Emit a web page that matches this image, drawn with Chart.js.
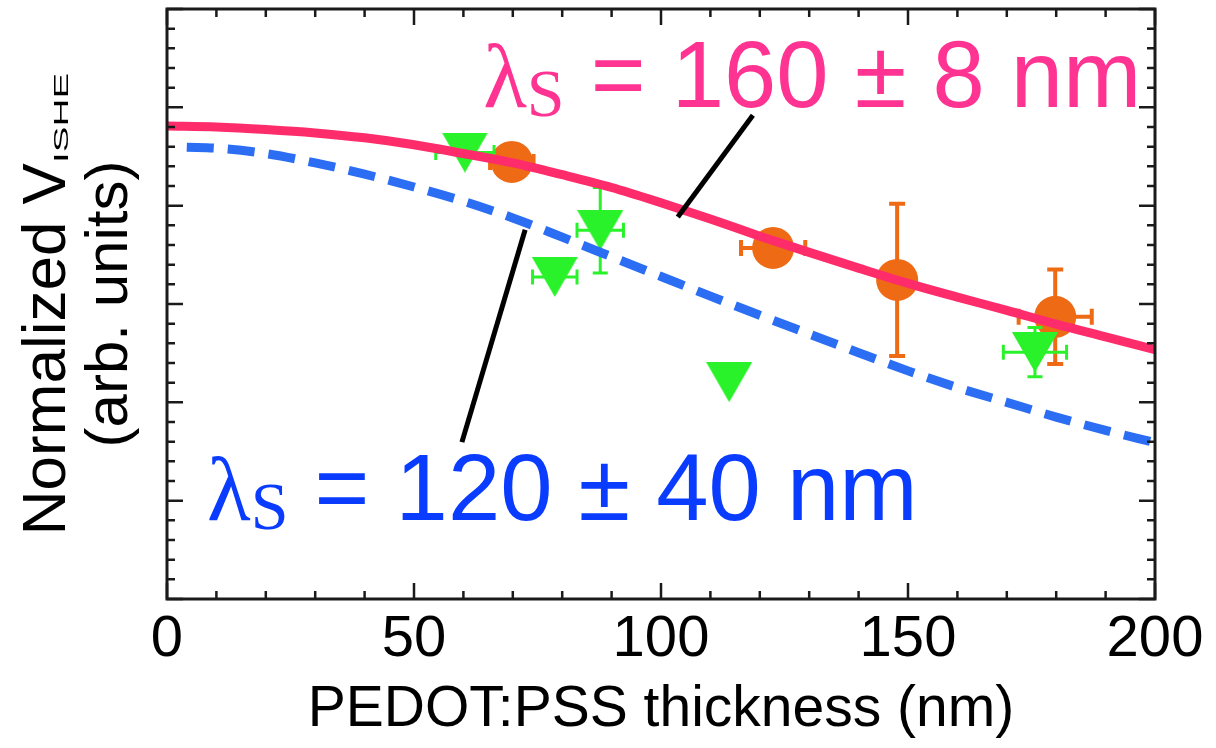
<!DOCTYPE html>
<html>
<head>
<meta charset="utf-8">
<script src="https://cdn.jsdelivr.net/npm/chart.js@4.4.0/dist/chart.umd.min.js"></script>
<style>
html, body { margin: 0; padding: 0; background: #fff; }
#wrap { width: 1216px; height: 748px; }
</style>
</head>
<body>
<div id="wrap"><canvas id="myChart" width="1216" height="748"></canvas></div>
<script>
// fit curves (thickness in nm, normalized V_ISHE)
const fitX = [0, 10, 20, 30, 40, 50, 60, 70, 80, 90, 100, 110, 120, 130, 140, 150, 160, 170, 180, 190, 200];
const fit160 = [0.962, 0.960, 0.955, 0.948, 0.938, 0.924, 0.906, 0.887, 0.863, 0.837, 0.806, 0.773, 0.738, 0.705, 0.673, 0.642, 0.614, 0.587, 0.559, 0.533, 0.507];
const fit120X = [4, 10, 20, 30, 40, 50, 60, 70, 80, 90, 100, 110, 120, 130, 140, 150, 160, 170, 180, 190, 200];
const fit120 = [0.919, 0.917, 0.906, 0.887, 0.864, 0.838, 0.809, 0.775, 0.736, 0.696, 0.656, 0.616, 0.577, 0.539, 0.501, 0.464, 0.430, 0.400, 0.370, 0.343, 0.318];

// measured points
const orangeX = [69.8, 122.7, 147.8, 179.8];
const orangeY = [0.889, 0.714, 0.649, 0.574];
const orangeXErr = [4.4, 6.5, 0, 7.4];
const orangeYErr = [0, 0, 0.155, 0.096];

const greenX = [60.3, 87.7, 78.5, 113.8, 175.7];
const greenY = [0.908, 0.750, 0.655, 0.441, 0.502];
const greenXErr = [5.9, 4.7, 4.5, 0, 6.4];
const greenYErr = [0, 0.087, 0, 0, 0.05];

const xTickLabels = ['0', '50', '100', '150', '200'];

// annotations
const fitLabels = [
    { x: 64.0, y: 1.0, color: '#FF3391', text: '160 ± 8 nm' },
    { x: 8.1, y: 0.161, color: '#0A3CFF', text: '120 ± 40 nm' }
];
const pointerLines = [
    { from: [118.6, 0.984], to: [103.4, 0.777] },
    { from: [72.5, 0.751], to: [59.7, 0.319] }
];

function toXY(xs, ys) {
    return xs.map((x, i) => ({ x: x, y: ys[i] }));
}

// downward triangle marker, centred on its bounding box
function makeTriangle(w, h, color) {
    const c = document.createElement('canvas');
    c.width = w;
    c.height = h;
    const g = c.getContext('2d');
    g.fillStyle = color;
    g.beginPath();
    g.moveTo(0, 0);
    g.lineTo(w, 0);
    g.lineTo(w / 2, h);
    g.closePath();
    g.fill();
    return c;
}

const errorBars = {
    id: 'errorBars',
    beforeDatasetDraw(chart, args) {
        const ds = chart.data.datasets[args.index];
        if (!ds.errX) return;
        const ctx = chart.ctx;
        const xs = chart.scales.x, ys = chart.scales.y;
        const c = ds.capSize / 2;
        ctx.save();
        ctx.strokeStyle = ds.errColor;
        ctx.lineWidth = ds.errWidth;
        ds.data.forEach((p, i) => {
            const px = xs.getPixelForValue(p.x);
            const py = ys.getPixelForValue(p.y);
            ctx.beginPath();
            if (ds.errX[i]) {
                const l = xs.getPixelForValue(p.x - ds.errX[i]);
                const r = xs.getPixelForValue(p.x + ds.errX[i]);
                ctx.moveTo(l, py); ctx.lineTo(r, py);
                ctx.moveTo(l, py - c); ctx.lineTo(l, py + c);
                ctx.moveTo(r, py - c); ctx.lineTo(r, py + c);
            }
            if (ds.errY[i]) {
                const t = ys.getPixelForValue(p.y + ds.errY[i]);
                const b = ys.getPixelForValue(p.y - ds.errY[i]);
                ctx.moveTo(px, t); ctx.lineTo(px, b);
                ctx.moveTo(px - c, t); ctx.lineTo(px + c, t);
                ctx.moveTo(px - c, b); ctx.lineTo(px + c, b);
            }
            ctx.stroke();
        });
        ctx.restore();
    }
};

const frameAndText = {
    id: 'frameAndText',
    afterDatasetsDraw(chart) {
        const ctx = chart.ctx;
        const xs = chart.scales.x, ys = chart.scales.y;
        const a = chart.chartArea;

        // pointer lines
        ctx.save();
        ctx.strokeStyle = '#000';
        ctx.lineWidth = 5;
        pointerLines.forEach(l => {
            ctx.beginPath();
            ctx.moveTo(xs.getPixelForValue(l.from[0]), ys.getPixelForValue(l.from[1]));
            ctx.lineTo(xs.getPixelForValue(l.to[0]), ys.getPixelForValue(l.to[1]));
            ctx.stroke();
        });

        // lambda_s labels
        ctx.textBaseline = 'alphabetic';
        ctx.textAlign = 'left';
        fitLabels.forEach(lb => {
            let px = xs.getPixelForValue(lb.x);
            const py = ys.getPixelForValue(lb.y);
            ctx.fillStyle = lb.color;
            ctx.font = '90px "Liberation Serif"';
            ctx.fillText('λ', px, py);
            px += ctx.measureText('λ').width;
            ctx.font = '68px "Liberation Serif"';
            ctx.fillText('S', px, py + 9);
            px += ctx.measureText('S').width;
            ctx.font = '94px "Liberation Sans"';
            ctx.fillText(' = ' + lb.text, px, py);
        });

        // frame
        ctx.strokeStyle = '#1a1a1a';
        ctx.lineWidth = 3;
        ctx.strokeRect(a.left, a.top, a.right - a.left, a.bottom - a.top);

        // inward ticks on all four sides
        ctx.lineWidth = 2.5;
        ctx.beginPath();
        for (let v = 0; v <= 200; v += 10) {
            const px = xs.getPixelForValue(v);
            const len = v % 50 === 0 ? 16 : 8;
            ctx.moveTo(px, a.bottom); ctx.lineTo(px, a.bottom - len);
            ctx.moveTo(px, a.top); ctx.lineTo(px, a.top + len);
        }
        for (let k = 0; k <= 30; k++) {
            const py = ys.getPixelForValue(k * 0.04);
            const len = k % 5 === 0 ? 16 : 8;
            ctx.moveTo(a.left, py); ctx.lineTo(a.left + len, py);
            ctx.moveTo(a.right, py); ctx.lineTo(a.right - len, py);
        }
        ctx.stroke();

        // y axis title, two lines, rotated
        const cy = (a.top + a.bottom) / 2;
        ctx.fillStyle = '#000';
        ctx.font = '62px "Liberation Sans"';
        const w1 = ctx.measureText('Normalized V').width;
        ctx.font = '21px "Liberation Sans"';
        const subScale = 1.84;
        const w2 = ctx.measureText('ISHE').width * subScale;
        ctx.save();
        ctx.translate(65, cy);
        ctx.rotate(-Math.PI / 2);
        ctx.font = '62px "Liberation Sans"';
        ctx.fillText('Normalized V', -(w1 + w2) / 2, 0);
        ctx.translate(-(w1 + w2) / 2 + w1, 3);
        ctx.scale(subScale, 1);
        ctx.font = '21px "Liberation Sans"';
        ctx.fillText('ISHE', 0, 0);
        ctx.restore();

        ctx.save();
        ctx.translate(127, cy);
        ctx.rotate(-Math.PI / 2);
        ctx.textAlign = 'center';
        ctx.font = '60px "Liberation Sans"';
        ctx.fillText('(arb. units)', 0, 0);
        ctx.restore();

        ctx.restore();
    }
};

const ctx = document.getElementById('myChart').getContext('2d');
new Chart(ctx, {
    type: 'scatter',
    data: {
        datasets: [{
            type: 'line',
            data: toXY(fit120X, fit120),
            borderColor: '#2B6EF4',
            borderWidth: 9,
            borderDash: [27, 14],
            pointRadius: 0,
            cubicInterpolationMode: 'monotone',
            fill: false
        }, {
            type: 'line',
            data: toXY(fitX, fit160),
            borderColor: '#FF2C6C',
            borderWidth: 9,
            pointRadius: 0,
            cubicInterpolationMode: 'monotone',
            fill: false
        }, {
            data: toXY(greenX, greenY),
            pointStyle: makeTriangle(46, 40, '#2AF22A'),
            pointRadius: 23,
            errX: greenXErr,
            errY: greenYErr,
            errColor: '#2AF22A',
            errWidth: 3,
            capSize: 15
        }, {
            data: toXY(orangeX, orangeY),
            pointStyle: 'circle',
            pointRadius: 21,
            backgroundColor: '#EE6A14',
            borderWidth: 0,
            errX: orangeXErr,
            errY: orangeYErr,
            errColor: '#EE6A14',
            errWidth: 4,
            capSize: 16
        }]
    },
    options: {
        responsive: false,
        animation: false,
        devicePixelRatio: 1,
        layout: { autoPadding: false, padding: { left: 0, right: 61, top: 9, bottom: 0 } },
        plugins: {
            legend: { display: false },
            tooltip: { enabled: false }
        },
        scales: {
            x: {
                type: 'linear',
                min: 0,
                max: 200,
                afterFit: s => { s.height = 149; },
                grid: { display: false, drawTicks: false },
                border: { display: false },
                ticks: {
                    stepSize: 50,
                    padding: 6,
                    color: '#000',
                    font: { family: 'Liberation Sans', size: 58 },
                    callback: v => xTickLabels[v / 50]
                },
                title: {
                    display: true,
                    text: 'PEDOT:PSS thickness (nm)',
                    color: '#000',
                    font: { family: 'Liberation Sans', size: 57 },
                    padding: { top: 0, bottom: 4 }
                }
            },
            y: {
                type: 'linear',
                min: 0,
                max: 1.2,
                afterFit: s => { s.width = 167; },
                grid: { display: false, drawTicks: false },
                border: { display: false },
                ticks: { display: false }
            }
        }
    },
    plugins: [errorBars, frameAndText]
});
</script>
</body>
</html>
